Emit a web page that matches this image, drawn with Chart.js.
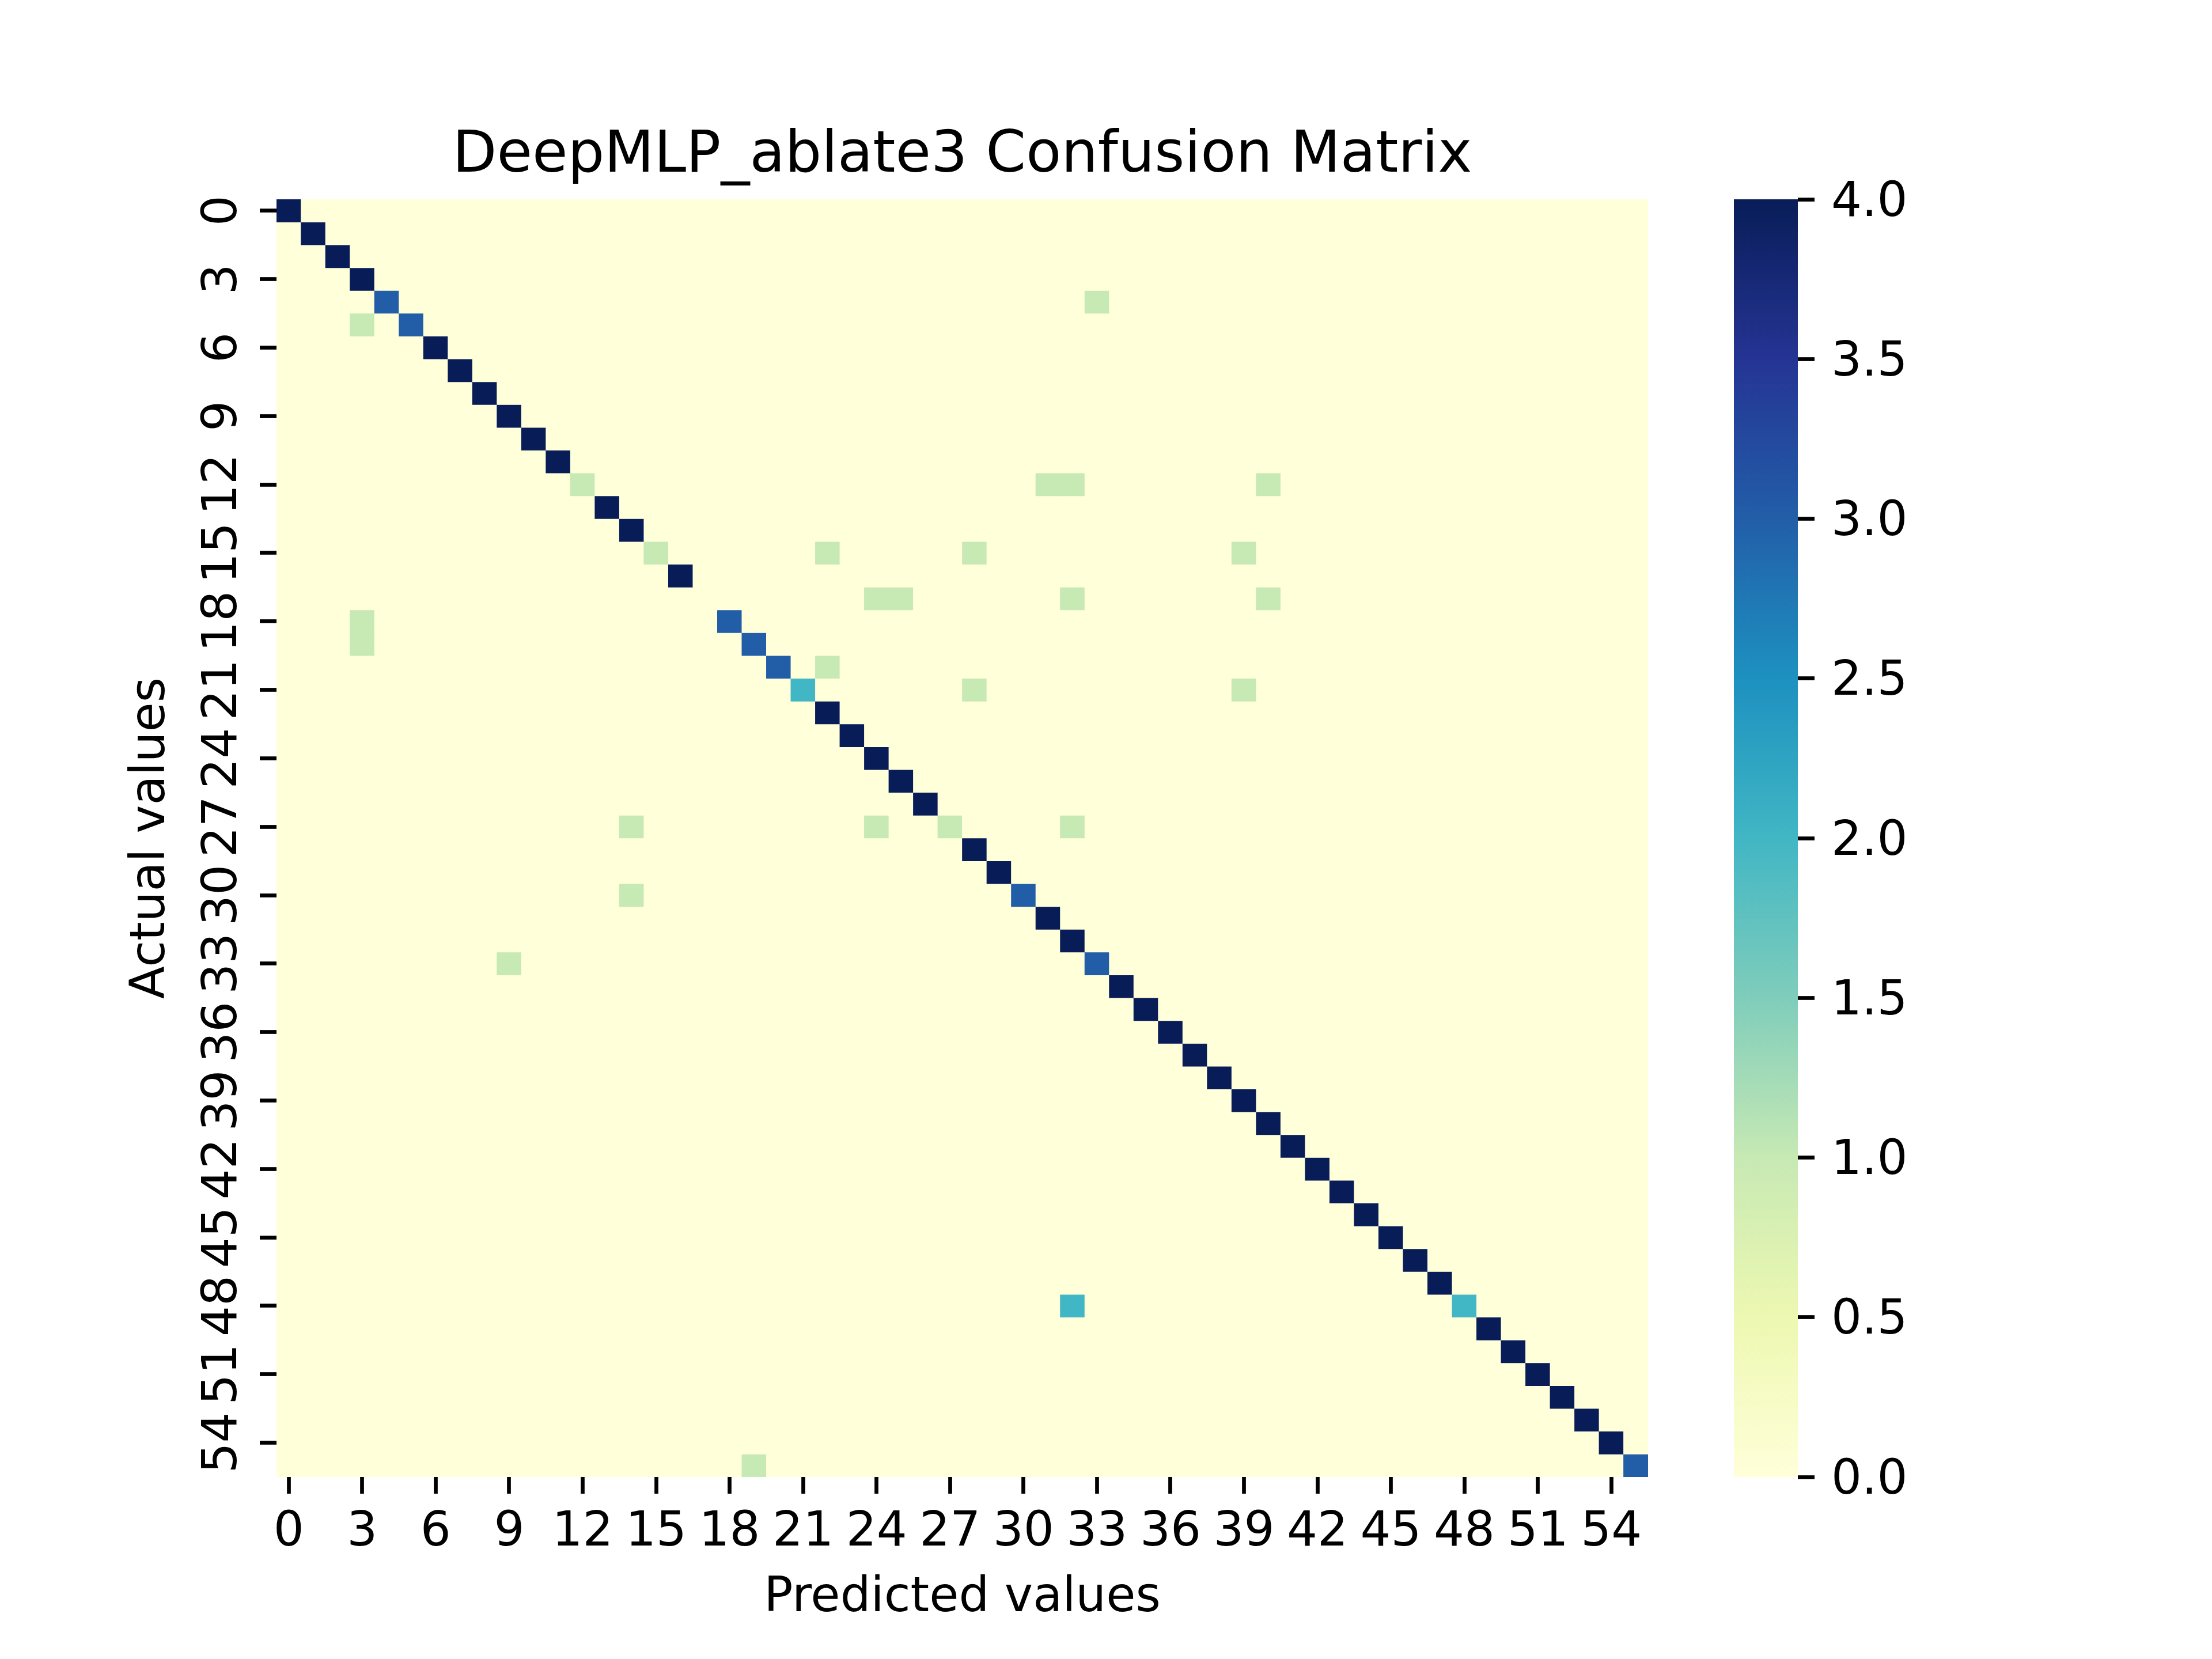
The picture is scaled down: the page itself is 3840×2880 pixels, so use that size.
<!DOCTYPE html>
<html>
<head>
<meta charset="utf-8">
<script src="https://cdn.jsdelivr.net/npm/chart.js@4.4.1/dist/chart.umd.min.js"></script>
<style>
  html, body { margin: 0; padding: 0; background: #ffffff; }
  #wrap { position: relative; width: 3840px; height: 2880px; background: #ffffff; }
  #wrap canvas { position: absolute; left: 0; top: 0; }
</style>
</head>
<body>
<div id="wrap">
  <canvas id="heat" width="3840" height="2880" style="width:3840px;height:2880px"></canvas>
  <canvas id="cbar" width="3840" height="2880" style="width:3840px;height:2880px"></canvas>
</div>
<script>
// ---------------- data ----------------
const classLabels = ['0','1','2','3','4','5','6','7','8','9','10','11','12','13','14','15','16','17','18','19',
  '20','21','22','23','24','25','26','27','28','29','30','31','32','33','34','35','36','37','38','39',
  '40','41','42','43','44','45','46','47','48','49','50','51','52','53','54','55'];

// counts on the diagonal (actual i predicted as i)
const diagonalCounts = [4,4,4,4,3,3,4,4,4,4,4,4,1,4,4,1,4,0,3,3,
  3,2,4,4,4,4,4,1,4,4,3,4,4,3,4,4,4,4,4,4,
  4,4,4,4,4,4,4,4,2,4,4,4,4,4,4,3];

// off-diagonal confusions: [actual, predicted, count]
const offDiagonalCells = [
  [4,33,1], [5,3,1],
  [12,31,1], [12,32,1], [12,40,1],
  [15,22,1], [15,28,1], [15,39,1],
  [17,24,1], [17,25,1], [17,32,1], [17,40,1],
  [18,3,1], [19,3,1], [20,22,1],
  [21,28,1], [21,39,1],
  [27,14,1], [27,24,1], [27,32,1],
  [30,14,1], [33,9,1], [48,32,2], [55,19,1]
];

const xTickLabels = ['0','3','6','9','12','15','18','21','24','27','30','33','36','39','42','45','48','51','54'];
const yTickLabels = ['0','3','6','9','12','15','18','21','24','27','30','33','36','39','42','45','48','51','54'];
const colorbarTicks = [0, 0.5, 1, 1.5, 2, 2.5, 3, 3.5, 4];
const colorMax = 4;

const chartTitle = 'DeepMLP_ablate3 Confusion Matrix';
const xAxisTitle = 'Predicted values';
const yAxisTitle = 'Actual values';

// YlGnBu colormap stops
const ylgnbu = ['#ffffd9','#edf8b1','#c7e9b4','#7fcdbb','#41b6c4','#1d91c0','#225ea8','#253494','#081d58'];

// ---------------- helpers ----------------
function hexToRgb(h) {
  return [parseInt(h.slice(1,3),16), parseInt(h.slice(3,5),16), parseInt(h.slice(5,7),16)];
}
function colorFor(v) {
  let t = Math.max(0, Math.min(1, v / colorMax));
  const pos = t * (ylgnbu.length - 1);
  const i = Math.min(Math.floor(pos), ylgnbu.length - 2);
  const f = pos - i;
  const a = hexToRgb(ylgnbu[i]), b = hexToRgb(ylgnbu[i + 1]);
  const c = a.map((x, k) => Math.round(x + (b[k] - x) * f));
  return 'rgb(' + c.join(',') + ')';
}

const n = classLabels.length;
const matrix = classLabels.map((_, r) => classLabels.map((__, c) => (r === c ? diagonalCounts[r] : 0)));
offDiagonalCells.forEach(([r, c, v]) => { matrix[r][c] = v; });

const FONT = '"DejaVu Sans", "Liberation Sans", sans-serif';
const TICK_PX = 83.33;
const TITLE_PX = 100;

// one floating-bar dataset per actual-value row
const datasets = matrix.map((row, r) => ({
  label: 'row ' + classLabels[r],
  data: row.map(() => [r, r + 1]),
  backgroundColor: row.map(v => colorFor(v)),
  borderWidth: 0,
  barPercentage: 1,
  categoryPercentage: 1,
  grouped: false
}));

const bgPlugin = {
  id: 'heatBg',
  beforeDatasetsDraw(chart) {
    const {ctx, chartArea: a} = chart;
    ctx.save();
    ctx.fillStyle = colorFor(0);
    ctx.fillRect(a.left, a.top, a.right - a.left, a.bottom - a.top);
    ctx.restore();
  }
};

const yLabelPlugin = {
  id: 'yRotLabels',
  afterDraw(chart) {
    const ys = chart.scales.y;
    const ctx = chart.ctx;
    ctx.save();
    ctx.font = TICK_PX + 'px ' + FONT;
    ctx.fillStyle = '#000000';
    ctx.textAlign = 'center';
    ctx.textBaseline = 'alphabetic';
    const bx = chart.chartArea.left - 70;
    yTickLabels.forEach(lbl => {
      const py = ys.getPixelForValue(Number(lbl) + 0.5);
      ctx.save();
      ctx.translate(bx, py);
      ctx.rotate(-Math.PI / 2);
      ctx.fillText(lbl, 0, 0);
      ctx.restore();
    });
    ctx.restore();
  }
};

new Chart(document.getElementById('heat'), {
  type: 'bar',
  data: { labels: classLabels, datasets: datasets },
  plugins: [bgPlugin, yLabelPlugin],
  options: {
    responsive: false,
    animation: false,
    devicePixelRatio: 1,
    layout: { padding: { left: 213, right: 979, top: 212, bottom: 55 } },
    plugins: {
      legend: { display: false },
      tooltip: { enabled: false },
      title: {
        display: true,
        text: chartTitle,
        fullSize: false,
        color: '#000000',
        font: { family: FONT, size: TITLE_PX, weight: 'normal', lineHeight: 1.2 },
        padding: { top: 0, bottom: 14 }
      }
    },
    scales: {
      x: {
        type: 'category',
        offset: true,
        afterFit: (axis) => { axis.height = 261; },
        border: { display: false },
        grid: {
          display: true, offset: false, drawOnChartArea: false, drawTicks: true,
          tickLength: 29, tickWidth: 6.7,
          tickColor: (ctx) => {
            const lbl = classLabels[ctx.index];
            return xTickLabels.includes(lbl) ? '#000000' : 'rgba(0,0,0,0)';
          }
        },
        ticks: {
          autoSkip: false, maxRotation: 0, minRotation: 0, padding: 18,
          color: '#000000',
          font: { family: FONT, size: TICK_PX, lineHeight: 1.2 },
          callback: function (value) {
            const lbl = this.getLabelForValue(value);
            return xTickLabels.includes(lbl) ? lbl : '';
          }
        },
        title: {
          display: true, text: xAxisTitle, color: '#000000',
          font: { family: FONT, size: TICK_PX, lineHeight: 1.2 },
          padding: 0
        }
      },
      y: {
        type: 'linear',
        min: 0, max: n,
        reverse: true,
        afterBuildTicks: (axis) => { axis.ticks = yTickLabels.map(l => ({ value: Number(l) + 0.5 })); },
        afterFit: (axis) => { axis.width = 267; },
        border: { display: false },
        grid: {
          display: true, drawOnChartArea: false, drawTicks: true,
          tickLength: 29, tickWidth: 6.7, tickColor: '#000000'
        },
        ticks: { display: false },
        title: {
          display: true, text: yAxisTitle, color: '#000000',
          font: { family: FONT, size: TICK_PX, lineHeight: 1.2 },
          padding: 0
        }
      }
    }
  }
});

// ---------------- colorbar ----------------
new Chart(document.getElementById('cbar'), {
  type: 'bar',
  data: {
    labels: ['scale'],
    datasets: [{
      data: [[colorbarTicks[0], colorbarTicks[colorbarTicks.length - 1]]],
      borderWidth: 0,
      barPercentage: 1,
      categoryPercentage: 1,
      backgroundColor: (c) => {
        const chart = c.chart;
        const a = chart.chartArea;
        if (!a) return colorFor(0);
        const g = chart.ctx.createLinearGradient(0, a.bottom, 0, a.top);
        ylgnbu.forEach((col, i) => g.addColorStop(i / (ylgnbu.length - 1), col));
        return g;
      }
    }]
  },
  options: {
    responsive: false,
    animation: false,
    devicePixelRatio: 1,
    layout: { padding: { left: 3010, right: 319, top: 346, bottom: 316 } },
    plugins: { legend: { display: false }, tooltip: { enabled: false }, title: { display: false } },
    scales: {
      x: { display: false, offset: true },
      y: {
        position: 'right',
        min: 0, max: colorMax,
        afterBuildTicks: (axis) => { axis.ticks = colorbarTicks.map(v => ({ value: v })); },
        afterFit: (axis) => { axis.width = 400; },
        border: { display: false },
        grid: {
          display: true, drawOnChartArea: false, drawTicks: true,
          tickLength: 29, tickWidth: 6.7, tickColor: '#000000'
        },
        ticks: {
          padding: 29,
          labelOffset: 7,
          color: '#000000',
          font: { family: FONT, size: TICK_PX, lineHeight: 1.2 },
          callback: (v) => Number(v).toFixed(1)
        }
      }
    }
  }
});
</script>
</body>
</html>
